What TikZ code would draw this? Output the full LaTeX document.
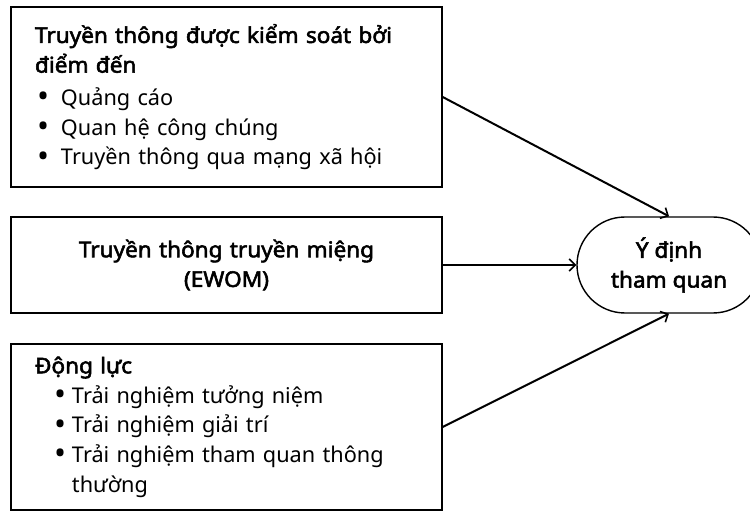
\documentclass[tikz,border=0pt]{standalone}
\usepackage{fontspec}
\setmainfont{Noto Sans}[BoldFont={Noto Sans}, BoldFeatures={FakeBold=2.5, FakeStretch=1.04}]
\usetikzlibrary{arrows.meta}

\newcommand{\itm}[2]{\hspace*{#1}\makebox[#2][l]{\raisebox{-2.5pt}{\fontsize{32}{0}\selectfont•}}}

\begin{document}
\begin{tikzpicture}[x=1pt, y=-1pt,
	box/.style={draw, line width=1.4pt, minimum width=431pt, inner xsep=0pt, inner ysep=0pt,
		text width=407pt, align=left, font=\fontsize{21.7}{29.7}\selectfont},
	goal/.style={draw, line width=1.4pt, rounded corners=48pt, minimum width=184pt,
		minimum height=96pt, align=center, font=\fontsize{21.7}{29.7}\selectfont\bfseries},
	link/.style={line width=2pt, -{Straight Barb[length=6pt, width=12pt, line width=1.6pt]}}]

			\useasboundingbox (0,0) rectangle (750,513);

			% left column
			\node[box, minimum height=180pt] (media) at (226.5,97) {%
				\hspace*{12pt}\textbf{Truyền thông được kiểm soát bởi}\\
				\hspace*{12pt}\textbf{điểm đến}\\[3pt]
				\itm{15pt}{23pt}Quảng cáo\\
				\itm{15pt}{23pt}Quan hệ công chúng\\
				\itm{15pt}{23pt}Truyền thông qua mạng xã hội};

			\node[box, minimum height=166pt] (motive) at (226.5,427) {%
				\hspace*{12pt}\textbf{Động lực}\\
				\itm{32pt}{17pt}Trải nghiệm tưởng niệm\\
				\itm{32pt}{17pt}Trải nghiệm giải trí\\
				\itm{32pt}{17pt}Trải nghiệm tham quan thông\\
				\hspace*{49pt}thường};

			\node[box, minimum height=96pt, align=center] (wom) at (226.5,265) {%
				\textbf{Truyền thông truyền miệng}\\
				\textbf{(EWOM)}};

			% right
			\node[goal] (intent) at (669,265) {Ý định\\tham quan};

			\draw[link] (media.east) -- (intent.north);
			\draw[link] (wom.east) -- (intent.west);
			\draw[link] (motive.east) -- (intent.south);
\end{tikzpicture}
\end{document}
